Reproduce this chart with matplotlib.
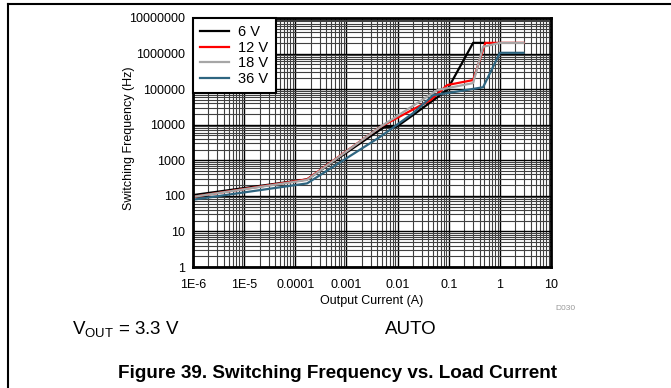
import numpy as np
import matplotlib.pyplot as plt
from matplotlib.ticker import FixedLocator, FixedFormatter, LogLocator, NullFormatter

plt.rcParams['font.family'] = ['Liberation Sans', 'DejaVu Sans']

# 6 V
i_6v = [1e-6, 1.7e-4, 0.0055, 0.0095, 0.02, 0.093, 0.3, 0.5]
f_6v = [105, 290, 8700, 8700, 18600, 94000, 2.0e6, 2.0e6]
# 12 V
i_12v = [1e-6, 1.7e-4, 0.0046, 0.044, 0.093, 0.3, 0.52, 2.9]
f_12v = [94, 290, 8700, 49000, 130000, 180000, 2.0e6, 2.0e6]
# 18 V
i_18v = [1e-6, 1.7e-4, 0.0046, 0.06, 0.3, 0.47, 1.0, 2.9]
f_18v = [94, 280, 8700, 94000, 148000, 1.55e6, 2.0e6, 2.0e6]
# 36 V
i_36v = [1e-6, 1.7e-4, 0.0046, 0.02, 0.05, 0.093, 0.47, 1.0, 2.9]
f_36v = [78, 224, 4600, 21000, 68000, 77000, 113000, 1.05e6, 1.05e6]

x_ticks = [1e-6, 1e-5, 1e-4, 1e-3, 1e-2, 1e-1, 1, 10]
x_labels = ['1E-6', '1E-5', '0.0001', '0.001', '0.01', '0.1', '1', '10']
y_ticks = [1, 10, 100, 1000, 10000, 100000, 1000000, 10000000]
y_labels = ['1', '10', '100', '1000', '10000', '100000', '1000000', '10000000']

fig = plt.figure(figsize=(6.71, 3.88), dpi=100)
ax = fig.add_axes([193/671, 1-267/388, (551-193)/671, (267-18)/388])

ax.plot(i_6v, f_6v, color='black', lw=1.6, label='6 V')
ax.plot(i_12v, f_12v, color='#ff0000', lw=1.6, label='12 V')
ax.plot(i_18v, f_18v, color='#a6a6a6', lw=1.6, label='18 V')
ax.plot(i_36v, f_36v, color='#2e6580', lw=1.6, label='36 V')

ax.set_xscale('log')
ax.set_yscale('log')
ax.set_xlim(1e-6, 10)
ax.set_ylim(1, 1e7)
ax.xaxis.set_major_locator(FixedLocator(x_ticks))
ax.xaxis.set_major_formatter(FixedFormatter(x_labels))
ax.yaxis.set_major_locator(FixedLocator(y_ticks))
ax.yaxis.set_major_formatter(FixedFormatter(y_labels))
ax.xaxis.set_minor_locator(LogLocator(base=10, subs=np.arange(2, 10), numticks=20))
ax.yaxis.set_minor_locator(LogLocator(base=10, subs=np.arange(2, 10), numticks=20))
ax.xaxis.set_minor_formatter(NullFormatter())
ax.yaxis.set_minor_formatter(NullFormatter())
ax.tick_params(which='both', length=0, labelsize=9)
ax.tick_params(axis='x', pad=9)
ax.tick_params(axis='y', pad=6)
ax.grid(which='major', color='black', lw=1.0)
ax.grid(which='minor', color='#404040', lw=0.8)
ax.set_axisbelow(True)
for s in ax.spines.values():
    s.set_linewidth(2)

ax.set_xlabel('Output Current (A)', fontsize=9)
ax.xaxis.set_label_coords(0.5, -0.112)
ax.set_ylabel('Switching Frequency (Hz)', fontsize=9)
ax.yaxis.set_label_coords(-0.162, 0.518)

leg = ax.legend(loc='upper left', fontsize=10.5, fancybox=False, framealpha=1,
                edgecolor='black', borderaxespad=0, handlelength=2.0,
                labelspacing=0.1, borderpad=0.5, handletextpad=0.6)
leg.get_frame().set_linewidth(1.5)

fig.text(565/671, 1-308/388, 'D030', fontsize=6, color='#999999', ha='center', va='center')
fig.text(72/671, 1-330/388, r'V$_{\mathregular{OUT}}$ = 3.3 V', fontsize=13.5, ha='left', va='center')
fig.text(411/671, 1-330/388, 'AUTO', fontsize=13.5, ha='center', va='center')
fig.text(337/671, 1-374/388, 'Figure 39. Switching Frequency vs. Load Current',
         fontsize=13.6, fontweight='bold', ha='center', va='center')

# frame lines (top and left)
fig.add_artist(plt.Line2D([8/671, 1], [1-4/388, 1-4/388], color='black', lw=1.5, transform=fig.transFigure))
fig.add_artist(plt.Line2D([8/671, 8/671], [0, 1-4/388], color='black', lw=1.5, transform=fig.transFigure))

fig.savefig('out.png', dpi=100)
